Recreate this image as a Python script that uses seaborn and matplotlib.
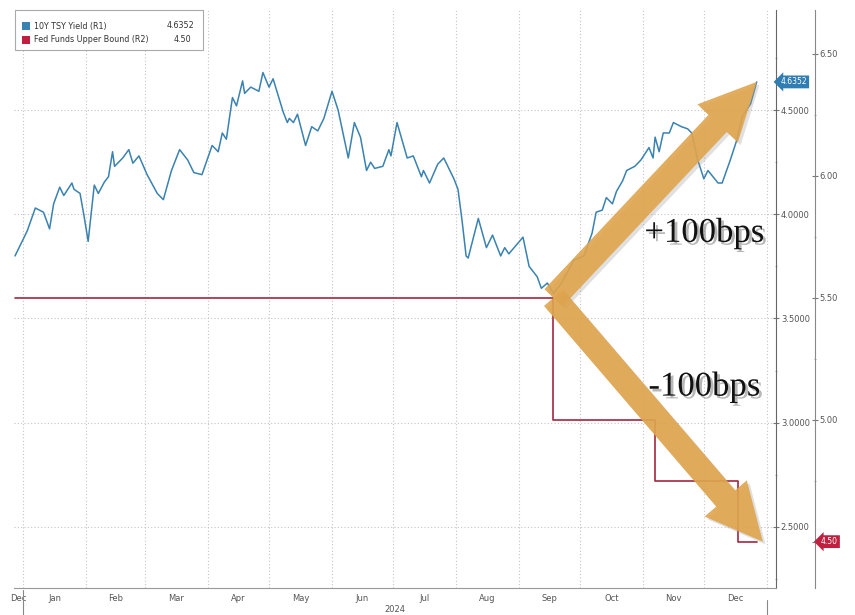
import matplotlib
matplotlib.use("Agg")
import matplotlib.pyplot as plt
import matplotlib.dates as mdates
import matplotlib.patheffects as pe
from matplotlib.patches import Rectangle
from matplotlib.ticker import MultipleLocator, FuncFormatter, FixedLocator, NullFormatter
import pandas as pd
import seaborn as sns

# 10Y treasury yield
yield_dates = [
    '2023-12-28', '2024-01-03', '2024-01-07', '2024-01-11', '2024-01-14', '2024-01-16',
    '2024-01-19', '2024-01-21', '2024-01-25', '2024-01-26', '2024-01-29', '2024-01-31',
    '2024-02-02', '2024-02-05', '2024-02-07', '2024-02-10', '2024-02-12', '2024-02-14',
    '2024-02-15', '2024-02-19', '2024-02-22', '2024-02-24', '2024-02-27', '2024-03-02',
    '2024-03-07', '2024-03-10', '2024-03-14', '2024-03-18', '2024-03-22', '2024-03-25',
    '2024-03-29', '2024-04-03', '2024-04-06', '2024-04-08', '2024-04-10', '2024-04-13',
    '2024-04-15', '2024-04-18', '2024-04-19', '2024-04-22', '2024-04-26', '2024-04-28',
    '2024-05-01', '2024-05-03', '2024-05-08', '2024-05-10', '2024-05-11', '2024-05-13',
    '2024-05-15', '2024-05-19', '2024-05-22', '2024-05-25', '2024-05-28', '2024-06-01',
    '2024-06-04', '2024-06-09', '2024-06-12', '2024-06-15', '2024-06-18', '2024-06-20',
    '2024-06-22', '2024-06-26', '2024-06-29', '2024-06-30', '2024-07-03', '2024-07-08',
    '2024-07-11', '2024-07-15', '2024-07-16', '2024-07-19', '2024-07-23', '2024-07-26',
    '2024-07-31', '2024-08-02', '2024-08-04', '2024-08-06', '2024-08-07', '2024-08-12',
    '2024-08-16', '2024-08-19', '2024-08-23', '2024-08-25', '2024-08-27', '2024-09-03',
    '2024-09-06', '2024-09-10', '2024-09-12', '2024-09-15', '2024-09-18', '2024-09-22',
    '2024-09-28', '2024-10-03', '2024-10-07', '2024-10-09', '2024-10-12', '2024-10-14',
    '2024-10-17', '2024-10-19', '2024-10-22', '2024-10-24', '2024-10-28', '2024-10-31',
    '2024-11-02', '2024-11-04', '2024-11-06', '2024-11-07', '2024-11-09', '2024-11-11',
    '2024-11-14', '2024-11-16', '2024-11-20', '2024-11-23', '2024-11-25', '2024-11-28',
    '2024-12-01', '2024-12-03', '2024-12-08', '2024-12-10', '2024-12-14', '2024-12-17',
    '2024-12-20', '2024-12-24', '2024-12-27',
]
yield_values = [
    3.80, 3.92, 4.03, 4.01, 3.93, 4.05,
    4.13, 4.09, 4.15, 4.12, 4.10, 3.99,
    3.87, 4.14, 4.10, 4.155, 4.18, 4.30,
    4.23, 4.27, 4.31, 4.245, 4.28, 4.19,
    4.10, 4.07, 4.21, 4.31, 4.26, 4.20,
    4.19, 4.33, 4.30, 4.39, 4.36, 4.56,
    4.52, 4.64, 4.58, 4.61, 4.59, 4.68,
    4.61, 4.65, 4.49, 4.44, 4.46, 4.44,
    4.48, 4.33, 4.42, 4.40, 4.46, 4.59,
    4.50, 4.27, 4.44, 4.37, 4.21, 4.25,
    4.22, 4.23, 4.31, 4.28, 4.44, 4.27,
    4.28, 4.18, 4.21, 4.15, 4.24, 4.27,
    4.17, 4.12, 3.97, 3.80, 3.79, 3.98,
    3.84, 3.90, 3.80, 3.84, 3.81, 3.89,
    3.75, 3.70, 3.645, 3.67, 3.62, 3.67,
    3.78, 3.80, 3.91, 4.01, 4.02, 4.08,
    4.05, 4.11, 4.16, 4.21, 4.23, 4.26,
    4.29, 4.32, 4.27, 4.37, 4.30, 4.39,
    4.39, 4.44, 4.42, 4.41, 4.39, 4.26,
    4.17, 4.21, 4.15, 4.15, 4.26, 4.35,
    4.47, 4.53, 4.635,
]

# Fed funds upper bound (steps)
fed_dates = ['2023-12-28', '2024-09-18', '2024-11-07', '2024-12-18', '2024-12-27']
fed_values = [5.50, 5.00, 4.75, 4.50, 4.50]

month_labels = ['Dec', 'Jan', 'Feb', 'Mar', 'Apr', 'May', 'Jun',
                'Jul', 'Aug', 'Sep', 'Oct', 'Nov', 'Dec']
year_label = '2024'
legend_names = ['10Y TSY Yield (R1)', 'Fed Funds Upper Bound (R2)']
legend_values = ['4.6352', '4.50']
arrow_texts = ['+100bps', '-100bps']

BLUE = '#3a82b0'
RED = '#a3283f'
GOLD = '#dfa44c'
GRAY = '#555555'

ydf = pd.DataFrame({'date': pd.to_datetime(yield_dates), 'yld': yield_values})
fdf = pd.DataFrame({'date': pd.to_datetime(fed_dates), 'fed': fed_values})

sns.set_style('white')
plt.rcParams['font.family'] = ['DejaVu Sans']

W, H = 855, 615
fig = plt.figure(figsize=(W / 100, H / 100), dpi=100)
ax = fig.add_axes([14 / W, 1 - 588 / H, 762 / W, 578 / H])

sns.lineplot(data=ydf, x='date', y='yld', ax=ax, color=BLUE, lw=1.1)
ax.set_xlim(pd.Timestamp('2023-12-27 12:00'), pd.Timestamp('2025-01-05 12:00'))
ax.set_ylim(2.207, 4.98)
ax.set_xlabel('')
ax.set_ylabel('')

ax2 = ax.twinx()
sns.lineplot(data=fdf, x='date', y='fed', ax=ax2, color=RED, lw=1.2,
             drawstyle='steps-post')
ax2.set_ylim(4.31, 6.68)
ax2.set_xlabel('')
ax2.set_ylabel('')

# both value axes on the right side
ax.yaxis.tick_right()
ax.yaxis.set_label_position('right')

# spines
for s in ['left', 'top']:
    ax.spines[s].set_visible(False)
    ax2.spines[s].set_visible(False)
ax2.spines['bottom'].set_visible(False)
ax.spines['right'].set_visible(True)
ax.spines['right'].set_color('#666666')
ax.spines['bottom'].set_color('#999999')
ax2.spines['right'].set_color('#888888')
ax2.spines['right'].set_position(('outward', 39 * 0.72))

# y ticks
ax.yaxis.set_major_locator(MultipleLocator(0.5))
ax.yaxis.set_minor_locator(MultipleLocator(0.25))
ax.yaxis.set_major_formatter(FuncFormatter(lambda v, p: '{:.4f}'.format(v)))
ax2.yaxis.set_major_locator(MultipleLocator(0.5))
ax2.yaxis.set_minor_locator(MultipleLocator(0.25))
ax2.yaxis.set_major_formatter(
    FuncFormatter(lambda v, p: '' if abs(v - 4.5) < 1e-6 else '{:.2f}'.format(v)))
for a in (ax, ax2):
    a.tick_params(axis='y', which='major', direction='inout', length=4, width=0.8,
                  colors='#777777', labelcolor=GRAY, labelsize=6, pad=1.5,
                  left=False, labelleft=False, right=True, labelright=True)
    a.tick_params(axis='y', which='minor', direction='inout', length=2,
                  width=0.6, colors='#999999', left=False, right=True)

# x ticks: month boundaries as major, labels centred in months as minor
month_starts = pd.date_range('2024-01-01', '2025-01-01', freq='MS')
x0 = ax.get_xlim()[0]
ms_num = [mdates.date2num(d) for d in month_starts]
label_pos = [(x0 + ms_num[0]) / 2] + [(ms_num[i] + ms_num[i + 1]) / 2
                                       for i in range(len(ms_num) - 1)]
ax.xaxis.set_major_locator(FixedLocator(ms_num))
ax.xaxis.set_major_formatter(NullFormatter())
ax.xaxis.set_minor_locator(FixedLocator(label_pos))
ax.xaxis.set_minor_formatter(FuncFormatter(
    lambda v, p: month_labels[p] if p is not None and p < len(month_labels) else ''))
ax.tick_params(axis='x', which='major', direction='inout', length=4, width=0.8,
               colors='#888888')
ax.tick_params(axis='x', which='minor', length=0, labelsize=6, labelcolor=GRAY, pad=4)

# dotted grid
ax.grid(axis='x', which='major', color='#c4c4c4', ls=(0, (1, 2)), lw=0.8)
ax.grid(axis='y', which='major', color='#c4c4c4', ls=(0, (1, 2)), lw=0.8)

# year separator lines and label
xt = ax.get_xaxis_transform()
ax.plot([ms_num[0]] * 2, [-0.003, -0.05], transform=xt, clip_on=False,
        color='#888888', lw=0.8)
ax.plot([ms_num[-1]] * 2, [-0.02, -0.05], transform=xt, clip_on=False,
        color='#888888', lw=0.8)
ax.text((ms_num[0] + ms_num[-1]) / 2, -0.038, year_label, transform=xt,
        ha='center', va='center', fontsize=6, color=GRAY)

# legend box
fig.add_artist(Rectangle((15 / W, 1 - 50 / H), 188 / W, 40 / H,
                         transform=fig.transFigure, fc='white', ec='#aaaaaa',
                         lw=0.8, zorder=5))
for i, (name, val, col) in enumerate(zip(legend_names, legend_values, [BLUE, '#c0203f'])):
    yy = 26 + 14 * i
    fig.add_artist(Rectangle((22 / W, 1 - (yy + 4) / H), 8 / W, 8 / H,
                             transform=fig.transFigure, fc=col, ec='none', zorder=6))
    fig.text(34 / W, 1 - yy / H, name, fontsize=5.8, color='#333333',
             ha='left', va='center', zorder=6)
    fig.text((167 + 7 * i) / W, 1 - yy / H, val, fontsize=5.8, color='#333333',
             ha='left', va='center', zorder=6)

# last-value tags
ax.text(1.006, yield_values[-1], legend_values[0], transform=ax.get_yaxis_transform(),
        ha='left', va='center', fontsize=5.5, color='white', zorder=10, clip_on=False,
        bbox=dict(boxstyle='larrow,pad=0.25', fc='#2f7db3', ec='none'))
ax2.text(1.059, fed_values[-1], legend_values[1], transform=ax2.get_yaxis_transform(),
         ha='left', va='center', fontsize=5.5, color='white', zorder=10, clip_on=False,
         bbox=dict(boxstyle='larrow,pad=0.25', fc='#c0203f', ec='none'))

# big annotation arrows
cut = mdates.date2num(pd.Timestamp(fed_dates[1]))
tail = (cut, fed_values[0])
up_tip = (mdates.date2num(pd.Timestamp(yield_dates[-1])), yield_values[-1])
dn_tip = (mdates.date2num(pd.Timestamp(fed_dates[-1]) + pd.Timedelta(days=3)), fed_values[-1])
shadow = [pe.withSimplePatchShadow(offset=(2, -2), shadow_rgbFace='#999999', alpha=0.3)]
astyle = 'simple,head_length=41,head_width=40,tail_width=18'
for tip, tip_coords in [(up_tip, ax.transData), (dn_tip, ax2.transData)]:
    ax2.annotate('', xy=tip, xycoords=tip_coords, xytext=tail, textcoords=ax2.transData,
                 arrowprops=dict(arrowstyle=astyle, mutation_scale=1, fc=GOLD, ec='none',
                                 alpha=0.9, shrinkA=0, shrinkB=0, path_effects=shadow),
                 zorder=8)

txt_shadow = [pe.withSimplePatchShadow(offset=(2, -2), shadow_rgbFace='#888888', alpha=0.6)]
ax2.text(0.906, 0.614, arrow_texts[0], transform=ax.transAxes, ha='center', va='center',
         fontsize=25, family='Liberation Serif', color='#111111', zorder=9,
         path_effects=txt_shadow)
ax2.text(0.906, 0.348, arrow_texts[1], transform=ax.transAxes, ha='center', va='center',
         fontsize=25, family='Liberation Serif', color='#111111', zorder=9,
         path_effects=txt_shadow)

fig.savefig('out.png', dpi=100, facecolor='white')
